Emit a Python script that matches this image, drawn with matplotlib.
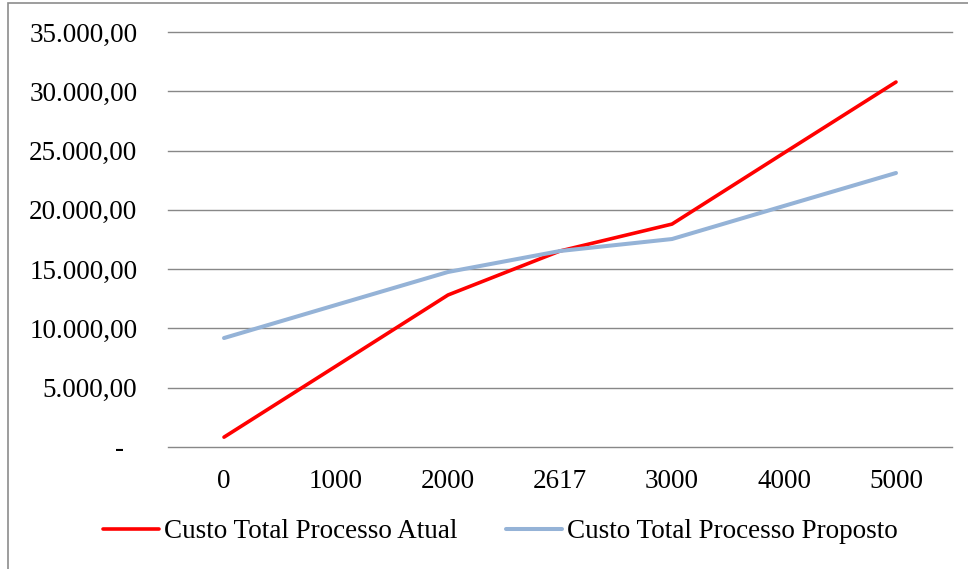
import matplotlib.pyplot as plt
from matplotlib.patches import Rectangle

plt.rcParams['font.family'] = ['Liberation Serif', 'DejaVu Serif']

quantidades = ['0', '1000', '2000', '2617', '3000', '4000', '5000']
custo_atual = [830, 6820, 12820, 16530, 18800, 24800, 30780]
custo_proposto = [9190, 11980, 14760, 16530, 17540, 20330, 23110]
y_ticks = [0, 5000, 10000, 15000, 20000, 25000, 30000, 35000]


def fmt_brl(v):
    if v == 0:
        return '-  '
    s = '{:,.2f}'.format(v)
    return s.replace(',', 'X').replace('.', ',').replace('X', '.')


fig = plt.figure(figsize=(9.68, 5.69), dpi=100)
ax = fig.add_axes([168 / 968, 1 - 447 / 569, 784 / 968, 415 / 569])

x = range(len(quantidades))
ax.plot(x, custo_atual, color='#FF0000', linewidth=2.6, solid_capstyle='round',
        label='Custo Total Processo Atual', zorder=3)
ax.plot(x, custo_proposto, color='#95B3D7', linewidth=2.9, solid_capstyle='round',
        label='Custo Total Processo Proposto', zorder=3)

ax.set_xlim(-0.5, len(quantidades) - 0.5)
ax.set_ylim(0, 35000)
ax.set_xticks(list(x))
ax.set_xticklabels(quantidades)
ax.set_yticks(y_ticks)
ax.set_yticklabels([fmt_brl(v) for v in y_ticks])
ax.tick_params(axis='both', length=0, labelsize=19.5)
ax.tick_params(axis='x', pad=16)
ax.tick_params(axis='y', pad=22)

ax.grid(axis='y', color='#888888', linewidth=1.0)
ax.set_axisbelow(True)
for g in ax.yaxis.get_gridlines():
    g.set_clip_on(False)
for s in ax.spines.values():
    s.set_visible(False)

fig.legend(loc='center', bbox_to_anchor=(0.517, 1 - 532 / 569), ncol=2, frameon=False,
           fontsize=19.5, handlelength=2.05, handletextpad=0.2, columnspacing=1.8)

# outer chart border
fig.patches.append(Rectangle((8 / 968, -0.1), 1.2, 1.1 - 3 / 569, transform=fig.transFigure,
                             fill=False, edgecolor='#8c8c8c', linewidth=1.2))

fig.savefig('out.png', dpi=100)
